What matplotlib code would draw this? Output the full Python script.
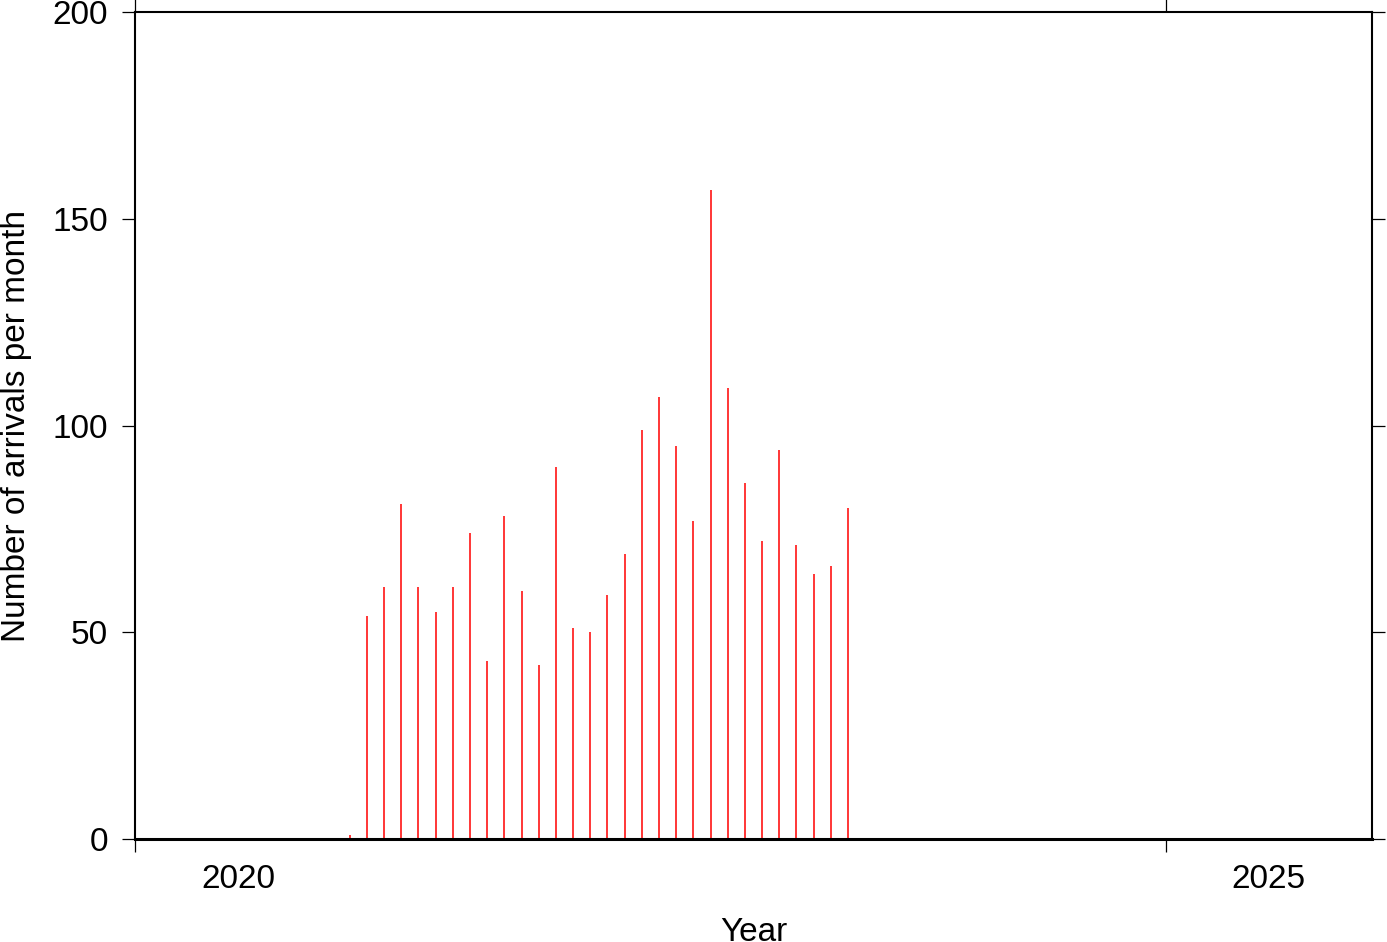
import matplotlib
matplotlib.use("Agg")
import matplotlib.pyplot as plt
import pandas as pd
from matplotlib.ticker import FixedLocator, NullFormatter, FixedFormatter

plt.rcParams["font.family"] = ["Liberation Sans", "DejaVu Sans"]

# monthly arrival counts, Jan 2021 .. Jun 2023
months = pd.period_range("2021-01", "2023-06", freq="M")
counts = [1, 54, 61, 81, 61, 55, 61, 74, 43, 78,
          60, 42, 90, 51, 50, 59, 69, 99, 107, 95,
          77, 157, 109, 86, 72, 94, 71, 64, 66, 80]
year_ticks = [2020, 2025]
year_labels = ["2020", "2025"]

x = [m.year + (m.month - 0.5) / 12 for m in months]

fig = plt.figure(figsize=(13.87, 9.42), dpi=100)
ax = fig.add_axes([135 / 1387, 1 - 839 / 942, (1372 - 135) / 1387, (839 - 12) / 942])

ax.vlines(x, 0, counts, color="#ff0000", linewidth=1.1)

ax.set_xlim(2020, 2026)
ax.set_ylim(0, 200)

# year ticks at boundaries, labels centred in the year interval
ax.xaxis.set_major_locator(FixedLocator(year_ticks))
ax.xaxis.set_major_formatter(NullFormatter())
ax.xaxis.set_minor_locator(FixedLocator([y + 0.5 for y in year_ticks]))
ax.xaxis.set_minor_formatter(FixedFormatter(year_labels))
ax.tick_params(axis="x", which="minor", length=0, pad=18, labelsize=24)
ax.tick_params(axis="x", which="major", direction="out", length=9.5, width=0.9,
               top=True, bottom=True)

ax.set_yticks([0, 50, 100, 150, 200])
ax.tick_params(axis="y", direction="out", length=9.5, width=0.9, labelsize=24,
               left=True, right=True, pad=10)

for side in ["left", "right", "top"]:
    ax.spines[side].set_linewidth(1.5)
ax.spines["bottom"].set_linewidth(2.2)

ax.set_xlabel("Year", fontsize=24)
ax.xaxis.label.set_va("baseline")
ax.xaxis.set_label_coords(0.5, (839 - 941) / 827)
ax.set_ylabel("Number of arrivals per month", fontsize=24)
ax.yaxis.label.set_va("baseline")
ax.yaxis.set_label_coords((25 - 135) / 1237, 0.5)

fig.savefig("out.png", dpi=100, facecolor="white")
